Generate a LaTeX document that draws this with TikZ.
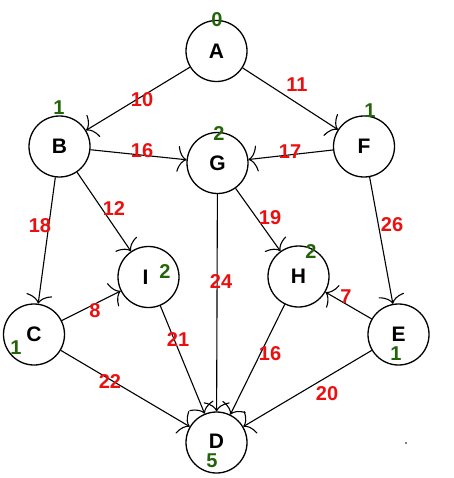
\documentclass[tikz,border=0pt]{standalone}
\usepackage{fontspec}
\setmainfont{Liberation Sans}
\usetikzlibrary{arrows.meta}
\definecolor{wred}{RGB}{235,15,15}
\definecolor{dgreen}{RGB}{35,100,10}
\tikzset{
  vtx/.style={circle,draw,line width=1.3pt,minimum size=61pt,inner sep=0pt,font=\fontsize{21}{21}\selectfont\bfseries},
  edge/.style={line width=1.1pt,-{To[length=9pt,width=26pt,line width=1.1pt]}},
  wt/.style={text=wred,font=\fontsize{20}{20}\selectfont\bfseries,inner sep=0pt},
  lvl/.style={text=dgreen,font=\fontsize{20}{20}\selectfont\bfseries,inner sep=0pt}
}
\begin{document}
\begin{tikzpicture}[x=1pt,y=-1pt]
\useasboundingbox (0,0) rectangle (453,478);
\node[vtx] (A) at (216.5,51) {A};
\node[vtx] (B) at (59.5,146.5) {B};
\node[vtx] (G) at (217.5,163) {G};
\node[vtx] (F) at (364,146.5) {F};
\node[vtx] (I) at (148.5,277) {I\phantom{I}};
\node[vtx] (H) at (298.5,276.5) {H};
\node[vtx] (C) at (34,334.5) {C};
\node[vtx] (E) at (398.5,334.5) {E};
\node[vtx] (D) at (216.5,442.5) {\raisebox{3pt}{D}};
% levels
\node[lvl] (lA) at (217,20) {0};
\node[lvl] (lB) at (59,108) {1};
\node[lvl] (lF) at (370,111) {1};
\node[lvl] (lG) at (219,134) {2};
\node[lvl] (lI) at (165,272) {2};
\node[lvl] (lH) at (311,252) {2};
\node[lvl] (lC) at (16,348) {1};
\node[lvl] (lE) at (396,354) {1};
\node[lvl] (lD) at (212,461) {5};
% edges
\draw[edge] (A) -- (B);
\draw[edge] (A) -- (F);
\draw[edge] (B) -- (G);
\draw[edge] (F) -- (G);
\draw[edge] (B) -- (C);
\draw[edge] (B) -- (I);
\draw[edge] (G) -- (H);
\draw[edge] (F) -- (E);
\draw[edge] (G) -- (D);
\draw[edge] (C) -- (I);
\draw[edge] (I) -- (D);
\draw[edge] (H) -- (D);
\draw[edge] (E) -- (H);
\draw[edge] (C) -- (D);
\draw[edge] (E) -- (D);
% weights
\node[wt] (w10) at (142,100) {10};
\node[wt] (w11) at (297,85) {11};
\node[wt] (w16a) at (142,151) {16};
\node[wt] (w17) at (290,152) {17};
\node[wt] (w18) at (40,226) {18};
\node[wt] (w12) at (114,209) {12};
\node[wt] (w19) at (270,218) {19};
\node[wt] (w26) at (392,225) {26};
\node[wt] (w24) at (221,282) {24};
\node[wt] (w8) at (95,311) {8};
\node[wt] (w21) at (178,340) {21};
\node[wt] (w16b) at (270,354) {16};
\node[wt] (w7) at (346,297) {7};
\node[wt] (w22) at (110,382) {22};
\node[wt] (w20) at (327,394) {20};
\fill (406,443) circle (0.8pt);
\end{tikzpicture}
\end{document}
